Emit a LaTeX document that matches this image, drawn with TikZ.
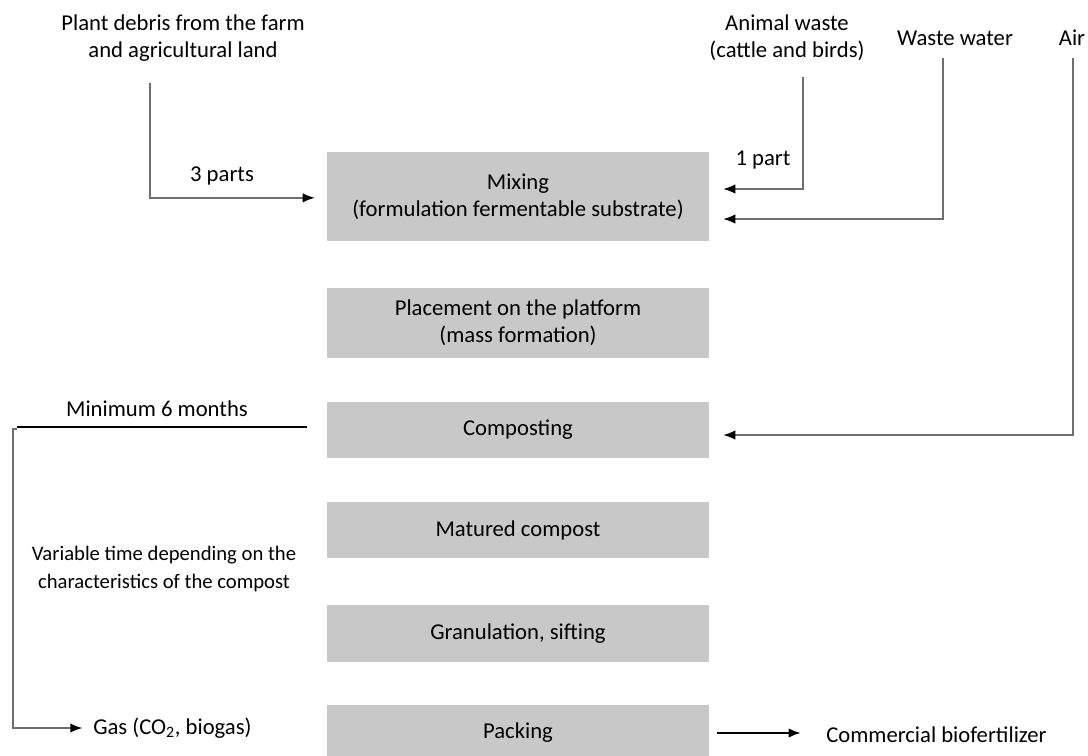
\documentclass[tikz,border=0pt]{standalone}
\usepackage{fontspec}
\setmainfont{Carlito}
\usetikzlibrary{arrows.meta}

\definecolor{stagegray}{RGB}{200,200,200}
\definecolor{feedgray}{RGB}{110,110,110}

\begin{document}
\begin{tikzpicture}[x=0.75pt, y=-0.75pt, font=\fontsize{17}{20.5}\selectfont,
    stage/.style = {fill=stagegray, minimum width=286.5pt, align=center, inner sep=0pt},
    label/.style = {align=center, inner sep=0pt},
    feed/.style = {draw=feedgray, line width=1pt, -{Latex[length=9pt, width=7pt, color=black]}},
    bold/.style = {draw=black, line width=1.3pt}]
    \useasboundingbox (0,0) rectangle (1088,756);

    % process stages
    \node[stage, minimum height=66.75pt] (mix) at (518,196.5) {Mixing\\(formulation fermentable substrate)};
    \node[stage, minimum height=52.5pt] (place) at (518,323) {Placement on the platform\\(mass formation)};
    \node[stage, minimum height=42pt] (comp) at (518,430) {Composting};
    \node[stage, minimum height=42pt] (mat) at (518,530) {Matured compost};
    \node[stage, minimum height=42.75pt] (gran) at (518,633.5) {Granulation, sifting};
    \node[stage, minimum height=42pt] (pack) at (518,733) {Packing};

    % inputs
    \node[label] (plant) at (183,38) {Plant debris from the farm\\and agricultural land};
    \node[label] (animal) at (787,38) {Animal waste\\(cattle and birds)};
    \node[label] (water) at (955,38) {Waste water};
    \node[label] (air) at (1072,38) {Air};
    \node[label] (three) at (222,176) {3 parts};
    \node[label] (one) at (763,160) {1 part};

    \coordinate (planttop) at (150,83);
    \coordinate (animaltop) at (803,77);
    \coordinate (watertop) at (943,58);
    \coordinate (airtop) at (1073,58);

    \draw[feed, shorten >=9pt] (planttop) |- ([yshift=-1pt]mix.west);
    \draw[feed, shorten >=10.5pt] (animaltop) |- ([yshift=5.6pt]mix.east);
    \draw[feed, shorten >=10.5pt] (watertop) |- ([yshift=-16.9pt]mix.east);
    \draw[feed, shorten >=10.5pt] (airtop) |- ([yshift=-3.75pt]comp.east);

    % time and outputs
    \node[label] (minimum) at (157,409) {Minimum 6 months};
    \coordinate (minleft) at (17,427);
    \coordinate (minright) at (307,427);
    \draw[bold] (minleft) -- (minright);

    \node[label, font=\fontsize{15.5}{21}\selectfont] (vartime) at (164,569) {Variable time depending on the\\characteristics of the compost};

    \node[label, anchor=west] (gas) at (93,728) {Gas (CO\textsubscript{2}, biogas)};
    \coordinate (brackettop) at (17,429);
    \draw[feed, shorten >=8pt] (brackettop) -- ++(-4,0) |- (gas.west);

    \node[label, anchor=west] (comm) at (826,735) {Commercial biofertilizer};
    \draw[bold, -{Latex[length=9pt, width=7pt]}] ([xshift=6pt]pack.east) -- ([xshift=-19pt, yshift=1.5pt]comm.west);
\end{tikzpicture}
\end{document}
